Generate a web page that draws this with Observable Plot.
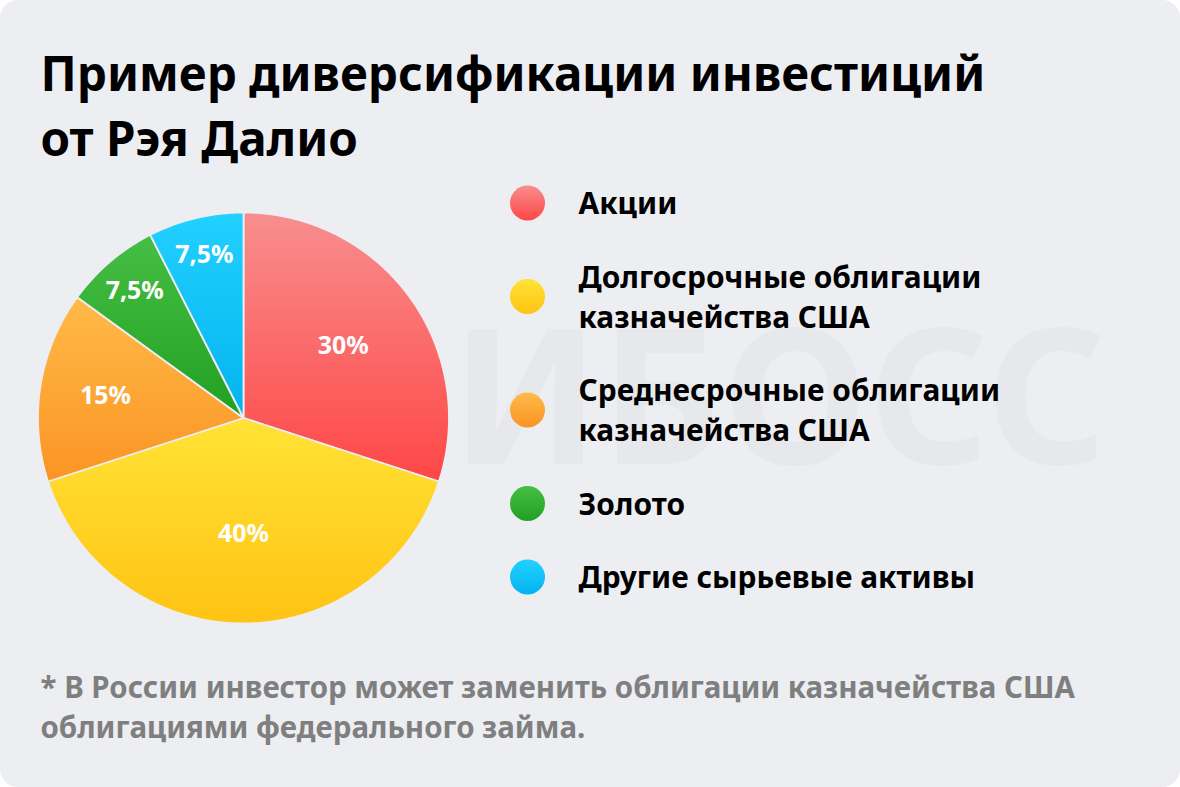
<!DOCTYPE html>
<html>
<head>
<meta charset="utf-8">
<script src="https://cdn.jsdelivr.net/npm/d3@7"></script>
<script src="https://cdn.jsdelivr.net/npm/@observablehq/plot@0.6"></script>
<style>
  html, body { margin: 0; padding: 0; background: #ffffff; }
  #card { position: relative; width: 1180px; height: 787px; background: #edeef2; border-radius: 18px; overflow: hidden; }
  #card svg { display: block; }
</style>
</head>
<body>
<div id="card"></div>
<script>
// ---------- data ----------
const categories = [
  "Акции",
  "Долгосрочные облигации\nказначейства США",
  "Среднесрочные облигации\nказначейства США",
  "Золото",
  "Другие сырьевые активы"
];
const shares = [30, 40, 15, 7.5, 7.5];
const shareLabels = ["30%", "40%", "15%", "7,5%", "7,5%"];
const gradientTop = ["#f88e8e", "#ffe336", "#ffba48", "#45bf45", "#22d1ff"];
const gradientBottom = ["#ff4646", "#ffc313", "#fb9424", "#22a022", "#04b3ee"];
const titleLines = ["Пример диверсификации инвестиций", "от Рэя Далио"];
const footnoteLines = [
  "* В России инвестор может заменить облигации казначейства США",
  "облигациями федерального займа."
];
const watermark = "ИБОСС";

// ---------- layout ----------
const W = 1180, H = 787;
const FONT = "'Noto Sans', sans-serif";
const CX = 243, CY = 417.5, R = 205.5;

const ctx = document.createElement("canvas").getContext("2d");
function fitSize(text, target) {
  ctx.font = `700 100px ${FONT}`;
  return 100 * target / ctx.measureText(text).width;
}
const titleSize = fitSize(titleLines[0], 945);
const legendSize = fitSize("Долгосрочные облигации", 403);
const footSize = fitSize(footnoteLines[0], 1035);
const labelSize = fitSize("30%", 51);
const wmSize = 188;

// pie geometry from values
const arcs = d3.pie().sort(null).value(d => d)(shares);
const slicePolys = arcs.map(a => {
  const pts = [[CX, CY]];
  const n = Math.max(4, Math.ceil((a.endAngle - a.startAngle) / 0.005));
  for (let k = 0; k <= n; k++) {
    const t = a.startAngle + (a.endAngle - a.startAngle) * k / n;
    pts.push([CX + R * Math.sin(t), CY - R * Math.cos(t)]);
  }
  return pts;
});
function labelFrac(v) { return v >= 40 ? 0.565 : v >= 30 ? 0.60 : v >= 15 ? 0.68 : 0.815; }
const labelPts = arcs.map((a, i) => {
  const m = (a.startAngle + a.endAngle) / 2, lr = R * labelFrac(a.value);
  return { x: CX + lr * Math.sin(m), y: CY - lr * Math.cos(m), text: shareLabels[i] };
});

// legend positions
const LINE = 40, GAP = 33.5;
const legendItems = [];
{
  let y = 202.5, prevHalf = 0;
  categories.forEach((c, i) => {
    const lines = c.split("\n").length, half = lines * LINE / 2;
    if (i > 0) y += prevHalf + GAP + half;
    legendItems.push({ i, label: c, cy: y });
    prevHalf = half;
  });
}

const marks = [
  Plot.text([watermark], {x: 451, y: 463, text: d => d, textAnchor: "start", lineAnchor: "bottom",
    fontSize: wmSize, fontWeight: 700, fontFamily: FONT, fill: "#e7e8ec"}),
  ...slicePolys.map((pts, i) => Plot.line(pts, {
    x: d => d[0], y: d => d[1], curve: "linear-closed",
    fill: `url(#grad${i})`, stroke: "#eceef2", strokeWidth: 1.8, strokeLinejoin: "round"
  })),
  Plot.text(labelPts, {x: "x", y: "y", text: "text", fill: "#ffffff", fontSize: labelSize,
    fontWeight: 700, fontFamily: FONT, lineAnchor: "middle"}),
  ...legendItems.map(d => Plot.dot([d], {x: 527, y: "cy", r: 17.5, fill: `url(#grad${d.i})`, stroke: "none"})),
  Plot.text(legendItems, {x: 578, y: "cy", text: "label", textAnchor: "start", lineAnchor: "middle",
    lineHeight: LINE / legendSize, fontSize: legendSize, fontWeight: 700, fontFamily: FONT, fill: "#000000", dy: -1.5}),
  Plot.text(titleLines.map((t, i) => ({t, y: 90 + i * 65})), {x: 40, y: "y", text: "t", textAnchor: "start",
    lineAnchor: "bottom", fontSize: titleSize, fontWeight: 700, fontFamily: FONT, fill: "#000000"}),
  Plot.text(footnoteLines.map((t, i) => ({t, y: 697 + i * 40})), {x: 40, y: "y", text: "t", textAnchor: "start",
    lineAnchor: "bottom", fontSize: footSize, fontWeight: 700, fontFamily: FONT, fill: "#7f7f7f"})
];

const svg = Plot.plot({
  width: W, height: H,
  margin: 0,
  x: {type: "linear", domain: [0, W], range: [0, W], axis: null},
  y: {type: "linear", domain: [0, H], range: [0, H], axis: null},
  style: {background: "transparent", overflow: "visible"},
  marks
});

const defs = d3.select(svg).insert("defs", ":first-child");
gradientTop.forEach((top, i) => {
  const g = defs.append("linearGradient").attr("id", `grad${i}`)
    .attr("x1", 0).attr("y1", 0).attr("x2", 0).attr("y2", 1);
  g.append("stop").attr("offset", "0%").attr("stop-color", top);
  g.append("stop").attr("offset", "100%").attr("stop-color", gradientBottom[i]);
});

document.getElementById("card").appendChild(svg);
</script>
</body>
</html>
